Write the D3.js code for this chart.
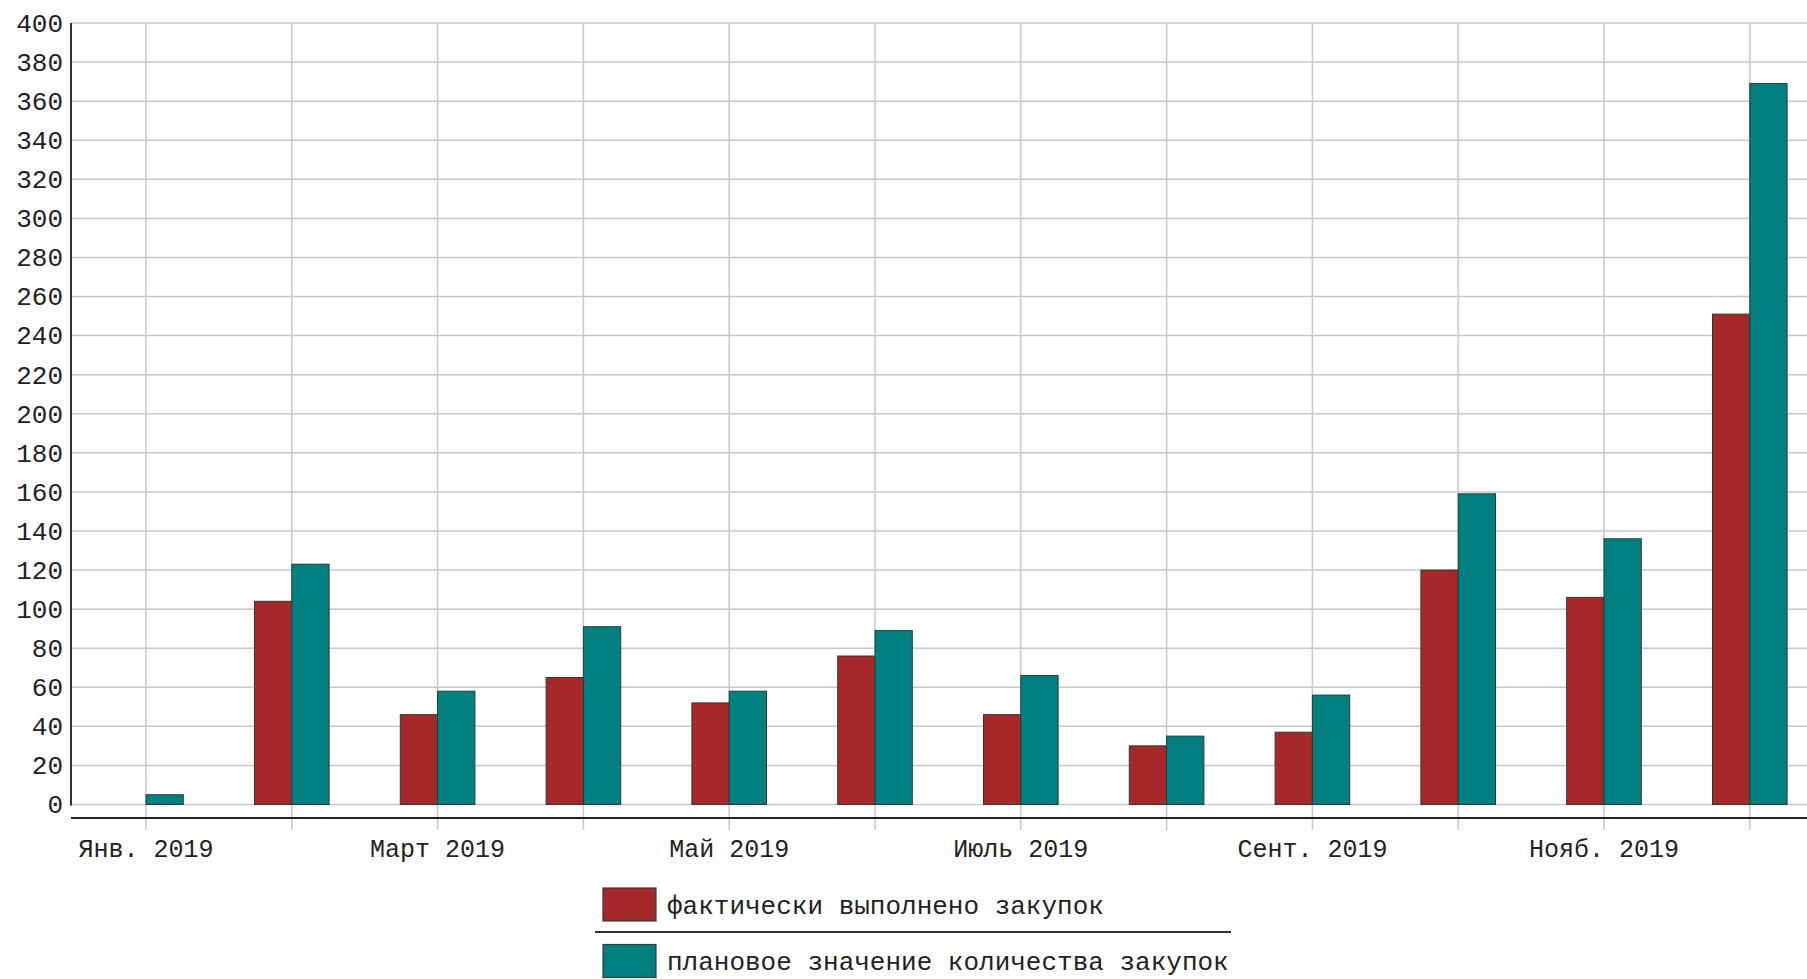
<!DOCTYPE html>
<html>
<head>
<meta charset="utf-8">
<script src="https://cdn.jsdelivr.net/npm/d3@7"></script>
<style>
html,body{margin:0;padding:0;background:#fff;overflow:hidden;}
text{font-family:"Liberation Mono","DejaVu Sans Mono",monospace;fill:#222;}
</style>
</head>
<body>
<svg id="chart" width="1807" height="979"></svg>
<script>
const months = ["Янв. 2019","Февр. 2019","Март 2019","Апр. 2019","Май 2019","Июнь 2019","Июль 2019","Авг. 2019","Сент. 2019","Окт. 2019","Нояб. 2019","Дек. 2019"];
const labeledMonths = ["Янв. 2019","Март 2019","Май 2019","Июль 2019","Сент. 2019","Нояб. 2019"];
const actual = [0,104,46,65,52,76,46,30,37,120,106,251];
const planned = [5,123,58,91,58,89,66,35,56,159,136,369];
const seriesNames = ["фактически выполнено закупок","плановое значение количества закупок"];
const seriesColors = ["#a62828","#008080"];
const yTicks = d3.range(0,401,20);

(function(){
const svg = d3.select("#chart");
const plotLeft = 71, plotTop = 23, bottom0 = 804.5, axisY = 818;
const step = 145.8;
const x = d3.scaleBand().domain(months).range([146 - step/2, 146 - step/2 + step*months.length]).padding(0);
const x1 = d3.scaleBand().domain([0,1]).range([-37.3, 37.3]).padding(0);
const y = d3.scaleLinear().domain([0,400]).range([bottom0, plotTop]);
const cx = m => x(m) + x.bandwidth()/2;

// horizontal gridlines
svg.append("g").selectAll("line").data(yTicks).join("line")
  .attr("x1", plotLeft).attr("x2", 1807)
  .attr("y1", d => y(d)).attr("y2", d => y(d))
  .attr("stroke", "#c8c8c8").attr("stroke-width", 1.5);

// vertical gridlines (through axis as ticks)
svg.append("g").selectAll("line").data(months).join("line")
  .attr("x1", d => cx(d)).attr("x2", d => cx(d))
  .attr("y1", plotTop).attr("y2", 830)
  .attr("stroke", "#c8c8c8").attr("stroke-width", 1.5);

// y axis labels
const yAxis = d3.axisLeft(y).tickValues(yTicks).tickSize(0).tickPadding(8);
const gy = svg.append("g").attr("transform", `translate(${plotLeft},0)`).call(yAxis);
gy.select(".domain").remove();
gy.selectAll("text").attr("font-size", 26).attr("fill", "#222").style("font-family", '"Liberation Mono",monospace');

// y axis line
svg.append("line").attr("x1", plotLeft).attr("x2", plotLeft).attr("y1", plotTop).attr("y2", bottom0+1)
  .attr("stroke", "#333").attr("stroke-width", 2);

// bars
const data = months.map((m,i) => ({m, vals:[actual[i], planned[i]]}));
const groups = svg.append("g").selectAll("g").data(data).join("g")
  .attr("transform", d => `translate(${cx(d.m)},0)`);
groups.selectAll("rect").data(d => d.vals.map((v,k) => ({v,k})).filter(e => e.v > 0)).join("rect")
  .attr("x", e => x1(e.k)).attr("width", x1.bandwidth())
  .attr("y", e => y(e.v)).attr("height", e => y(0) - y(e.v))
  .attr("fill", e => seriesColors[e.k])
  .attr("stroke", "#2a3a3a").attr("stroke-width", 1);

// x axis line
svg.append("line").attr("x1", plotLeft).attr("x2", 1807).attr("y1", axisY).attr("y2", axisY)
  .attr("stroke", "#222").attr("stroke-width", 2);

// x labels
svg.append("g").selectAll("text").data(labeledMonths).join("text")
  .attr("x", d => cx(d)).attr("y", 848).attr("dy", "0.35em")
  .attr("text-anchor", "middle").attr("font-size", 25).text(d => d);

// legend
const legend = svg.append("g");
const legY = [904.5, 961];
seriesNames.forEach((name,i) => {
  legend.append("rect").attr("x", 603).attr("y", legY[i]-16.5).attr("width", 53).attr("height", 33)
    .attr("fill", seriesColors[i]).attr("stroke", "#3a3a3a").attr("stroke-width", 1.2);
  legend.append("text").attr("x", 667).attr("y", legY[i]).attr("dy", "0.35em")
    .attr("font-size", 26).text(name);
});
legend.append("line").attr("x1", 595).attr("x2", 1231).attr("y1", 932).attr("y2", 932)
  .attr("stroke", "#333").attr("stroke-width", 2);
})();
</script>
</body>
</html>
